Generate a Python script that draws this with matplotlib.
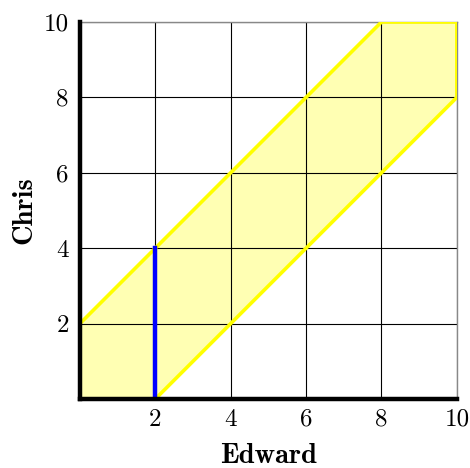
import matplotlib
matplotlib.use("Agg")
import matplotlib.pyplot as plt

plt.rcParams['axes.formatter.use_mathtext'] = True

# Band polygon (Edward, Chris) vertices
band_x = [0, 0, 8, 10, 10, 2]
band_y = [0, 2, 10, 10, 8, 0]
# Blue segment
seg_x = [2, 2]
seg_y = [0, 4]
xticks = [2, 4, 6, 8, 10]
yticks = [2, 4, 6, 8, 10]
grid_vals = [0, 2, 4, 6, 8, 10]

fig = plt.figure(figsize=(4.70, 4.68), dpi=100)
ax = fig.add_axes([0.170, 0.1474, 0.802, 0.8056])
ax.set_xlim(0, 10)
ax.set_ylim(0, 10)

ax.fill(band_x, band_y, facecolor='#ffffb3', edgecolor='none', zorder=1)
for g in grid_vals:
    ax.axvline(g, color='black', lw=0.8, zorder=2)
    ax.axhline(g, color='black', lw=0.8, zorder=2)
ax.plot(band_x + [band_x[0]], band_y + [band_y[0]], color='#ffff00', lw=2.6, zorder=3,
        solid_joinstyle='miter')
ax.plot(seg_x, seg_y, color='#0000ff', lw=3.2, zorder=4)

for s in ['top', 'right']:
    ax.spines[s].set_color('#888888')
    ax.spines[s].set_linewidth(1.0)
for s in ['left', 'bottom']:
    ax.spines[s].set_color('black')
    ax.spines[s].set_linewidth(3.2)
    ax.spines[s].set_zorder(5)

ax.set_xticks(xticks)
ax.set_yticks(yticks)
ax.set_xticklabels([str(v) for v in xticks], fontfamily='cmr10', fontsize=18)
ax.set_yticklabels([str(v) for v in yticks], fontfamily='cmr10', fontsize=18)
ax.tick_params(axis='x', length=0, pad=7)
ax.tick_params(axis='y', length=0, pad=8)

ax.set_xlabel('Edward', fontfamily='cmb10', fontsize=20.5, va='center')
ax.set_ylabel('Chris', fontfamily='cmb10', fontsize=20.5, va='center')
ax.xaxis.set_label_coords(0.5, -0.151)
ax.yaxis.set_label_coords(-0.148, 0.5)

fig.savefig('out.png', dpi=100)
